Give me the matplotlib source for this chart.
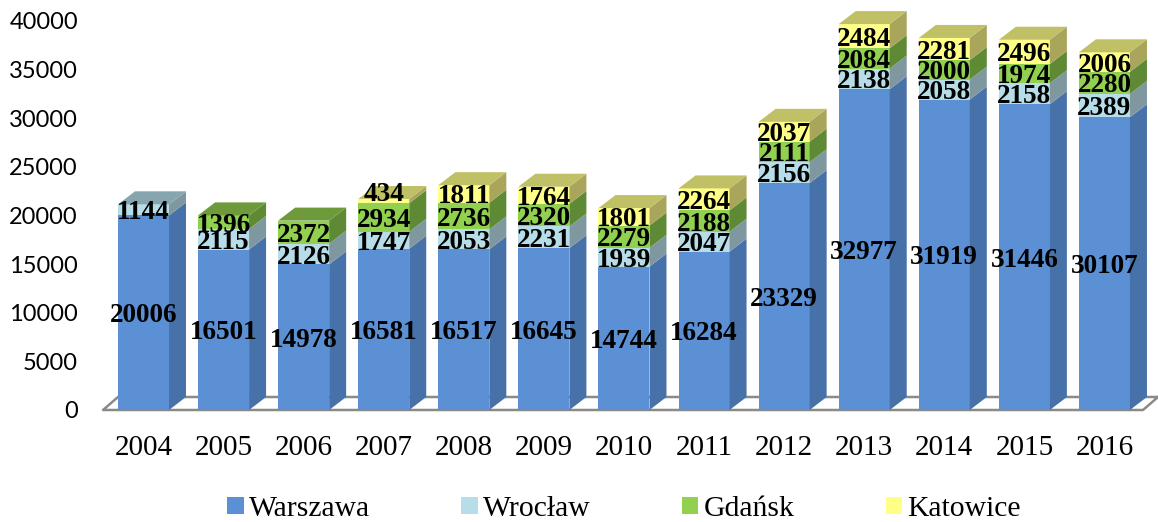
import matplotlib
matplotlib.use('Agg')
from matplotlib import pyplot as plt
from matplotlib.patches import Patch

years = ['2004', '2005', '2006', '2007', '2008', '2009', '2010', '2011', '2012', '2013', '2014', '2015', '2016']
warszawa = [20006, 16501, 14978, 16581, 16517, 16645, 14744, 16284, 23329, 32977, 31919, 31446, 30107]
wroclaw = [1144, 2115, 2126, 1747, 2053, 2231, 1939, 2047, 2156, 2138, 2058, 2158, 2389]
gdansk = [0, 1396, 2372, 2934, 2736, 2320, 2279, 2188, 2111, 2084, 2000, 1974, 2280]
katowice = [0, 0, 0, 434, 1811, 1764, 1801, 2264, 2037, 2484, 2281, 2496, 2006]
names = ['Warszawa', 'Wrocław', 'Gdańsk', 'Katowice']
series = [warszawa, wroclaw, gdansk, katowice]

# kolory: przod, bok, gora
front = ['#5b90d5', '#b7dde8', '#92d050', '#ffff88']
side = ['#4771a9', '#7f98a0', '#5f8a35', '#a9a55a']
top = ['#4f7fbd', '#87a5ae', '#6f9a3c', '#c0c066']

W, H = 1158, 522
x_left, x_right, y_zero, y_top = 103, 1158, 410, 21
pitch = 80.08
bar_w = 51 / pitch
dx = 17 / pitch
dy = 13 / ((y_zero - y_top) / 40000)
floor_dx = 15 / pitch

fig = plt.figure(figsize=(W / 100, H / 100), dpi=100)
ax = fig.add_axes([x_left / W, 1 - y_zero / H, (x_right - x_left) / W, (y_zero - y_top) / H])
ax.set_xlim((x_left - 143.5) / pitch, (x_right - 143.5) / pitch)
ax.set_ylim(0, 40000)
for s in ax.spines.values():
	s.set_visible(False)

# podloga
x0, x1 = ax.get_xlim()
floor_x = [x1, x0 + floor_dx, x0, x1 - floor_dx, x1]
floor_y = [dy, dy, 0, 0, dy]
ax.plot(floor_x, floor_y, color='#8a8a8a', lw=1.8, clip_on=False, zorder=1)

for i in range(len(years)):
	left = i - bar_w / 2
	right = i + bar_w / 2
	bottom = 0
	last = max(k for k in range(4) if series[k][i] > 0)
	for k in range(4):
		v = series[k][i]
		if v == 0:
			continue
		ax.bar(i, v, bar_w, bottom=bottom, color=front[k], zorder=3, clip_on=False)
		ax.fill([right, right + dx, right + dx, right],
				[bottom, bottom + dy, bottom + v + dy, bottom + v],
				color=side[k], lw=0, zorder=3, clip_on=False)
		if k == last:
			t = bottom + v
			ax.fill([left, left + dx, right + dx, right], [t, t + dy, t + dy, t],
					color=top[k], lw=0, zorder=3, clip_on=False)
		# etykieta 434 jest przesunieta w gore, bo segment jest za waski
		y_text = bottom + v / 2
		if v == 434:
			y_text += 1000
		ax.text(i, y_text, str(v), ha='center', va='center_baseline', family='Liberation Serif',
				fontweight='bold', fontsize=19.6, color='black', zorder=5, clip_on=False)
		bottom += v

ax.set_xticks(range(len(years)))
ax.set_xticklabels(years, family='Liberation Serif', fontsize=21, color='black')
ax.set_yticks(range(0, 40001, 5000))
ax.tick_params(axis='x', length=0, pad=18)
ax.tick_params(axis='y', length=0, pad=18)
for lab in ax.get_yticklabels():
	lab.set_family('Lato')
	lab.set_fontsize(17)

handles = [Patch(facecolor=front[k], label=names[k]) for k in range(4)]
fig.legend(handles=handles, ncol=4, loc='center', bbox_to_anchor=(624 / W, 1 - 509 / H), frameon=False,
		prop={'family': 'Liberation Serif', 'size': 21.3}, handlelength=0.56, handleheight=0.54,
		handletextpad=0.17, columnspacing=3.09, borderpad=0, borderaxespad=0)

plt.savefig('out.png', dpi=100)
